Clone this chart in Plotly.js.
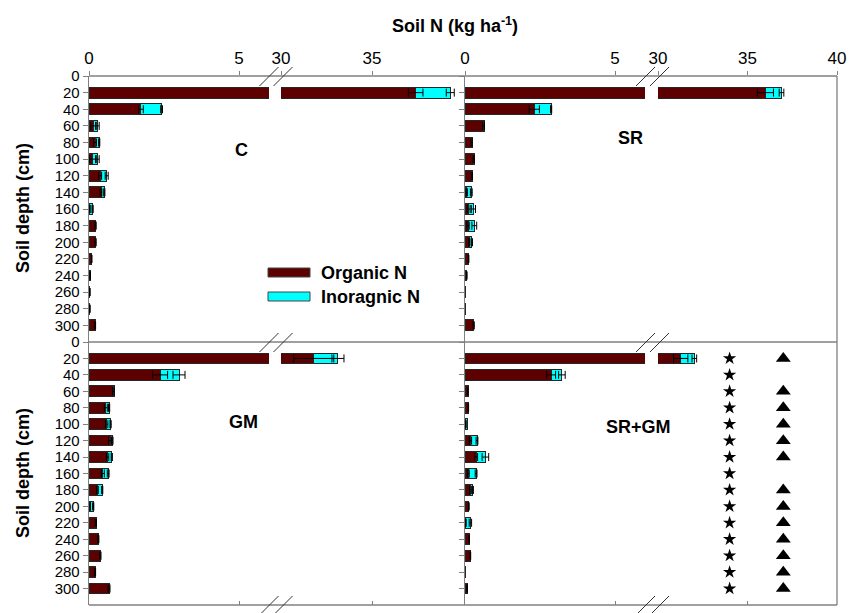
<!DOCTYPE html>
<html><head><meta charset="utf-8">
<script src="https://cdn.plot.ly/plotly-3.0.1.min.js"></script>
<style>html,body{margin:0;padding:0;background:#fff}#chart{width:861px;height:613px}</style>
</head><body><div id="chart"></div>
<script>
// ---------- data ----------
const depths = [20,40,60,80,100,120,140,160,180,200,220,240,260,280,300];
const depthTicks = [0,20,40,60,80,100,120,140,160,180,200,220,240,260,280,300];
const treatments = ['C','SR','GM','SR+GM'];
const seriesNames = ['Organic N','Inoragnic N'];

const cOrg      = [37.4,1.73,0.14,0.20,0.12,0.37,0.40,0.03,0.22,0.22,0.09,0.04,0.03,0.03,0.20];
const cInorg    = [1.90,0.69,0.15,0.14,0.17,0.22,0.11,0.09,0.01,0.01,0,0,0,0,0];
const cOrgErr   = [0.40,0.08,0.08,0.05,0.10,0.05,0.03,0.01,0.02,0.02,0.01,0.01,0.01,0.01,0.02];
const cInorgErr = [0.22,0.03,0.05,0.02,0.05,0.05,0.02,0.02,0,0,0,0,0,0,0];

const srOrg      = [36.0,2.31,0.62,0.22,0.29,0.23,0.06,0.12,0.10,0.14,0.12,0.06,0.03,0.03,0.29];
const srInorg    = [0.90,0.56,0.03,0.04,0.02,0.01,0.15,0.16,0.21,0.09,0.01,0,0,0,0];
const srOrgErr   = [0.45,0.17,0.03,0.02,0.02,0.02,0.02,0.05,0.04,0.02,0.01,0.01,0,0,0.02];
const srInorgErr = [0.13,0.02,0,0,0,0,0.03,0.07,0.08,0.02,0,0,0,0,0];

const gmOrg      = [31.8,2.37,0.81,0.56,0.59,0.70,0.62,0.46,0.28,0.04,0.23,0.31,0.38,0.20,0.67];
const gmInorg    = [1.33,0.63,0.03,0.11,0.13,0.08,0.14,0.18,0.16,0.10,0.02,0,0,0,0.02];
const gmOrgErr   = [1.10,0.25,0.03,0.05,0.04,0.05,0.04,0.05,0.03,0.01,0.02,0.02,0.02,0.02,0.03];
const gmInorgErr = [0.33,0.20,0,0.02,0.02,0.02,0.02,0.03,0.02,0.02,0,0,0,0,0];

const srgmOrg      = [31.27,2.87,0.09,0.11,0.03,0.18,0.37,0.11,0.18,0.13,0.03,0.14,0.18,0.01,0.07];
const srgmInorg    = [0.76,0.36,0.02,0.01,0.04,0.22,0.31,0.26,0.08,0,0.15,0.02,0,0,0];
const srgmOrgErr   = [0.40,0.15,0.01,0.01,0.01,0.04,0.05,0.03,0.03,0.01,0.01,0.01,0.01,0,0.01];
const srgmInorgErr = [0.13,0.11,0,0,0,0.03,0.11,0.03,0.02,0,0.04,0,0,0,0];

// significance markers (SR+GM panel)
const starDepths = [20,40,60,80,100,120,140,160,180,200,220,240,260,280,300];
const starX      = [34,34,34,34,34,34,34,34,34,34,34,34,34,34,34];
const triDepths  = [20,60,80,100,120,140,180,200,220,240,260,280,300];
const triX       = [37,37,37,37,37,37,37,37,37,37,37,37,37];

// axis segments of the broken x axis
const segRanges = [[0,6],[30,40]];
const segTicksTop = [[[0,5],[30,35]], [[0,5],[30,35,40]]];
const segTicksInner = [[5],[35]];

// ---------- geometry ----------
const W=861, H=613, ML=89, MR=24, MT=76, MB=8;
const PW=W-ML-MR, PH=H-MT-MB;
const px = x => (x-ML)/PW;
const py = y => 1-(y-MT)/PH;
const colSeg = [[[89,269],[281,463]], [[465,645],[658,837]]];
const rowY = [[76,342],[342,605]];
const FONT = 'Liberation Sans, Arial, sans-serif';
const ORG_COL = '#5c0000', INORG_COL = '#00ffff', OUTLINE = '#262626', AXCOL = '#808080';

const panels = [
  {org:cOrg, inorg:cInorg, oe:cOrgErr, ie:cInorgErr},
  {org:srOrg, inorg:srInorg, oe:srOrgErr, ie:srInorgErr},
  {org:gmOrg, inorg:gmInorg, oe:gmOrgErr, ie:gmInorgErr},
  {org:srgmOrg, inorg:srgmInorg, oe:srgmOrgErr, ie:srgmInorgErr}
];

const traces = [];
const layout = {
  width:W, height:H, margin:{l:ML,r:MR,t:MT,b:MB},
  paper_bgcolor:'#fff', plot_bgcolor:'rgba(0,0,0,0)',
  barmode:'stack', showlegend:false,
  font:{family:FONT, color:'#000'},
  title:{text:'<b>Soil N (kg ha<sup>-1</sup>)</b>', font:{family:FONT,size:18,color:'#000'},
         xref:'container', x:455/W, xanchor:'center', yref:'container', y:1-26/H, yanchor:'middle'},
  shapes:[], annotations:[]
};

panels.forEach((p,pi)=>{
  const row = Math.floor(pi/2), col = pi%2;
  const yName = pi===0 ? 'y' : 'y'+(pi+1);
  const yKey = pi===0 ? 'yaxis' : 'yaxis'+(pi+1);
  const firstX = 'x'+(pi===0 ? '' : (2*pi+1));
  layout[yKey] = {
    domain:[py(rowY[row][1]), py(rowY[row][0])], range:[320,0], anchor:firstX,
    tickvals:depthTicks, ticktext:depthTicks.map(String),
    ticks:'outside', ticklen:5, tickcolor:AXCOL, showline:true, linecolor:AXCOL, linewidth:1.3,
    showgrid:false, zeroline:false, showticklabels:col===0,
    tickfont:{family:FONT,size:15,color:'#000'}, fixedrange:true
  };
  [0,1].forEach(s=>{
    const n = 2*pi+s+1;
    const xName = 'x'+(n===1?'':n);
    const xKey = 'xaxis'+(n===1?'':n);
    const dom = [px(colSeg[col][s][0]), px(colSeg[col][s][1])];
    const base = {domain:dom, range:segRanges[s], anchor:yName, showline:false, showgrid:false,
      zeroline:false, tickcolor:AXCOL, ticklen:4, fixedrange:true,
      tickfont:{family:FONT,size:17,color:'#000'}};
    if(row===0){
      layout[xKey] = Object.assign(base,{side:'top', ticks:'outside', tickvals:segTicksTop[col][s],
        ticktext:segTicksTop[col][s].map(String), showticklabels:true});
    } else {
      layout[xKey] = Object.assign(base,{side:'bottom', ticks:'inside', tickvals:segTicksInner[s], showticklabels:false});
      const on = 8+(pi-2)*2+s+1; // overlay axis for middle line ticks
      layout['xaxis'+on] = {overlaying:xName, anchor:yName, side:'top', range:segRanges[s],
        ticks:'outside', ticklen:4, tickcolor:AXCOL, tickvals:segTicksInner[s], showticklabels:false,
        showline:false, showgrid:false, zeroline:false, fixedrange:true};
    }
    // bars
    traces.push({type:'bar', orientation:'h', name:seriesNames[0], y:depths, x:p.org, width:13,
      xaxis:xName, yaxis:yName, marker:{color:ORG_COL, line:{color:OUTLINE,width:1}}, hoverinfo:'skip'});
    traces.push({type:'bar', orientation:'h', name:seriesNames[1], y:depths, x:p.inorg, width:13,
      xaxis:xName, yaxis:yName, marker:{color:INORG_COL, line:{color:OUTLINE,width:1}}, hoverinfo:'skip'});
    // error bars
    const oeX = p.org.map((v,i)=> p.oe[i]>0 ? v : null);
    const ieX = p.org.map((v,i)=> p.ie[i]>0 ? v+p.inorg[i] : null);
    traces.push({type:'scatter', mode:'markers', x:oeX, y:depths, xaxis:xName, yaxis:yName,
      marker:{color:'rgba(0,0,0,0)', size:2}, hoverinfo:'skip',
      error_x:{type:'data', array:p.oe, color:'#000', thickness:1, width:4}});
    traces.push({type:'scatter', mode:'markers', x:ieX, y:depths, xaxis:xName, yaxis:yName,
      marker:{color:'rgba(0,0,0,0)', size:2}, hoverinfo:'skip',
      error_x:{type:'data', array:p.ie, color:'#000', thickness:1, width:4}});
  });
});

// significance markers in SR+GM panel (second segment)
traces.push({type:'scatter', mode:'markers', x:starX, y:starDepths, xaxis:'x8', yaxis:'y4',
  marker:{symbol:'star', size:10, color:'#000'}, hoverinfo:'skip'});
traces.push({type:'scatter', mode:'markers', x:triX, y:triDepths, xaxis:'x8', yaxis:'y4',
  marker:{symbol:'triangle-up', size:13, color:'#000'}, hoverinfo:'skip'});

// frame lines
const line = (x0,y0,x1,y1,color,w)=>({type:'line', xref:'paper', yref:'paper',
  x0:px(x0), y0:py(y0), x1:px(x1), y1:py(y1), line:{color:color, width:w}});
[76,342,605].forEach(y=> layout.shapes.push(line(89,y,837,y,AXCOL,1.3)));
layout.shapes.push(line(837,76,837,605,AXCOL,1.3));
// break marks
const breakCenters = [[269.5,283.5],[646,660]];
[76,342,605].forEach(y=>{
  breakCenters.forEach(cs=> cs.forEach(xc=>{
    layout.shapes.push(line(xc-10,y+10,xc+9,y-9,'#333',1));
  }));
});

// manual legend
const legendItems = [{label:seriesNames[0], color:ORG_COL, y:272.5},{label:seriesNames[1], color:INORG_COL, y:296.5}];
legendItems.forEach(it=>{
  layout.shapes.push({type:'rect', xref:'paper', yref:'paper', x0:px(268), x1:px(310),
    y0:py(it.y-4.5), y1:py(it.y+4.5), fillcolor:it.color, line:{color:'#444',width:1}});
  layout.annotations.push({xref:'paper', yref:'paper', x:px(319), y:py(it.y), xanchor:'left', yanchor:'middle',
    text:'<b>'+it.label+'</b>', showarrow:false, font:{family:FONT,size:18,color:'#000'}});
});

// panel labels
const labelPos = [[241,150],[630,138],[243,422],[638,427]];
treatments.forEach((t,i)=>{
  layout.annotations.push({xref:'paper', yref:'paper', x:px(labelPos[i][0]), y:py(labelPos[i][1]),
    xanchor:'center', yanchor:'middle', text:'<b>'+t+'</b>', showarrow:false,
    font:{family:FONT,size:18,color:'#000'}});
});
// y titles
[[208],[473]].forEach(c=>{
  layout.annotations.push({xref:'paper', yref:'paper', x:px(23), y:py(c[0]), xanchor:'center', yanchor:'middle',
    text:'<b>Soil depth (cm)</b>', textangle:-90, showarrow:false, font:{family:FONT,size:18,color:'#000'}});
});

Plotly.newPlot('chart', traces, layout, {staticPlot:true, displayModeBar:false});
</script></body></html>
